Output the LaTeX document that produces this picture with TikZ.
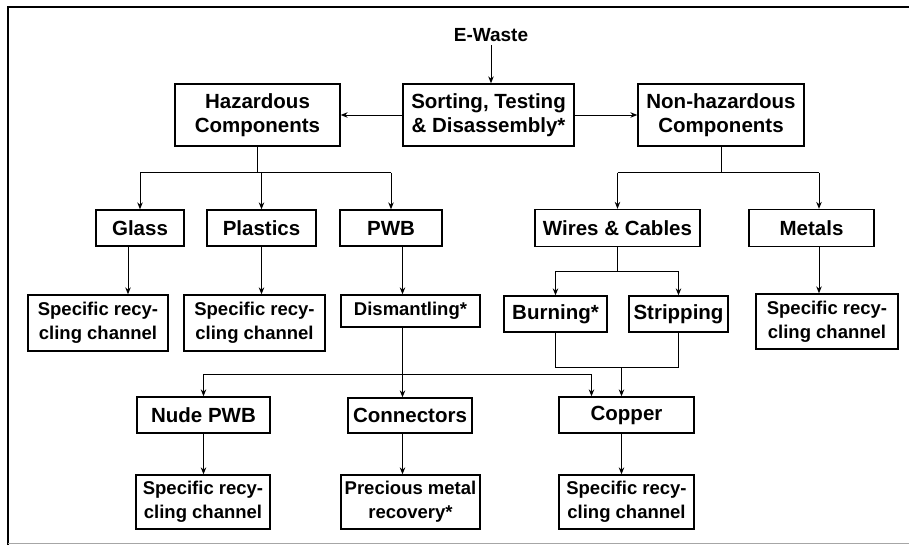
\documentclass[tikz,border=0pt]{standalone}
\usepackage{fontspec}
\setmainfont{Liberation Sans}
\usetikzlibrary{arrows.meta,calc}
\tikzset{
  blk/.style ={draw=black,line width=1.3pt,fill=white,align=center,inner sep=2pt,
               font=\fontsize{20.5}{24}\selectfont\bfseries},
  blks/.style={blk,font=\fontsize{18.5}{24}\selectfont\bfseries},
  sig/.style ={-{Stealth[length=7pt,width=5.5pt]},draw=black,line width=1pt},
  bus/.style ={draw=black,line width=1pt},
  sz/.style 2 args={minimum width=#1pt,minimum height=#2pt},
}

\begin{document}
\begin{tikzpicture}[x=1pt, y=-1pt]
\useasboundingbox (0,0) rectangle (909,551);
\draw[line width=1.2pt] (8,545) |- (909,7);
\draw[black!35,line width=0.8pt] (8,543) -- (909,543);

% first split
\node[font=\fontsize{19}{24}\selectfont\bfseries] (ew) at (491,35) {E-Waste};
\node[blk,sz={171}{62}] (sort)   at (488.5,115) {Sorting, Testing\\\& Disassembly*};
\node[blk,sz={165}{62}] (haz)    at (257.5,115) {Hazardous\\Components};
\node[blk,sz={166}{62}] (nonhaz) at (721,115)   {Non-hazardous\\Components};

% components
\node[blk,sz={88}{36}]  (glass)  at (140,228)   {Glass};
\node[blk,sz={109}{36}] (plast)  at (261.5,228) {Plastics};
\node[blk,sz={102}{36}] (pwb)    at (391,228)   {PWB};
\node[blk,sz={165}{37}] (wires)  at (617.5,228) {Wires \& Cables};
\node[blk,sz={125}{37}] (metals) at (811.5,228) {Metals};

% first treatment
\node[blks,sz={140}{56}] (rcglass) at (98,323)    {Specific recy-\\cling channel};
\node[blks,sz={141}{56}] (rcplast) at (254.5,323) {Specific recy-\\cling channel};
\node[blks,sz={139}{32}] (dism)    at (410.5,311) {Dismantling*};
\node[blk,sz={103}{36}]  (burn)    at (555.5,314) {Burning*};
\node[blk,sz={99}{36}]   (strip)   at (678.5,314) {Stripping};
\node[blks,sz={142}{55}] (rcmetal) at (827,321.5) {Specific recy-\\cling channel};

% fractions
\node[blk,sz={133}{36}] (nude)   at (203.5,415) {Nude PWB};
\node[blk,sz={124}{35}] (conn)   at (410,415.5) {Connectors};
\node[blk,sz={135}{36}] (copper) at (626.5,415) {Copper};

% final channels
\node[blks,sz={134}{54}] (rcnude)   at (203,502)   {Specific recy-\\cling channel};
\node[blks,sz={139}{54}] (prec)     at (410.5,502) {Precious metal\\recovery*};
\node[blks,sz={135}{54}] (rccopper) at (626.5,502) {Specific recy-\\cling channel};

% sorting
\draw[sig] (ew) -- (ew |- sort.north);
\draw[sig] (sort.west) -- (haz.east);
\draw[sig] (sort.east) -- (nonhaz.west);

% hazardous side
\draw[bus] (haz.south) -- ++(0,26) coordinate (hb);
\draw[bus] (glass.north |- hb) -- (pwb.north |- hb);
\foreach \n in {glass,plast,pwb}
  \draw[sig] (\n.north |- hb) -- (\n.north);
\coordinate (g) at ([xshift=-12pt]glass.south);
\draw[sig] (g) -- (g |- rcglass.north);
\draw[sig] (plast.south) -- (plast.south |- rcplast.north);
\coordinate (d) at ([xshift=-8pt]dism.north);
\draw[sig] (d |- pwb.south) -- (d);
\draw[sig] (d |- dism.south) -- (d |- conn.north);
\draw[sig] (d |- conn.south) -- (d |- prec.north);
\draw[sig] (nude.south) -- (nude.south |- rcnude.north);

% pwb to nude board and copper
\path (d |- dism.south) ++(0,47) coordinate (db);
\coordinate (c1) at ([xshift=-35pt]copper.north);
\draw[sig] (db) -| (nude.north);
\draw[sig] (db) -| (c1);

% non-hazardous side
\draw[bus] (nonhaz.south) -- ++(0,26) coordinate (nb);
\coordinate (xm) at (819,0);
\draw[bus] (wires.north |- nb) -- (xm |- nb);
\draw[sig] (wires.north |- nb) -- (wires.north);
\draw[sig] (xm |- nb) -- (xm |- metals.north);
\draw[sig] (xm |- metals.south) -- (xm |- rcmetal.north);

% wires and cables
\draw[bus] (wires.south) -- ++(0,24) coordinate (wb);
\draw[sig] (wb) -| (burn.north);
\draw[sig] (wb) -| (strip.north);
\draw[bus] (burn.south) -- ++(0,35) coordinate (bj) -| (strip.south);
\coordinate (c2) at ([xshift=-5pt]copper.north);
\draw[sig] (c2 |- bj) -- (c2);
\draw[sig] (c2 |- copper.south) -- (c2 |- rccopper.north);
\end{tikzpicture}
\end{document}
